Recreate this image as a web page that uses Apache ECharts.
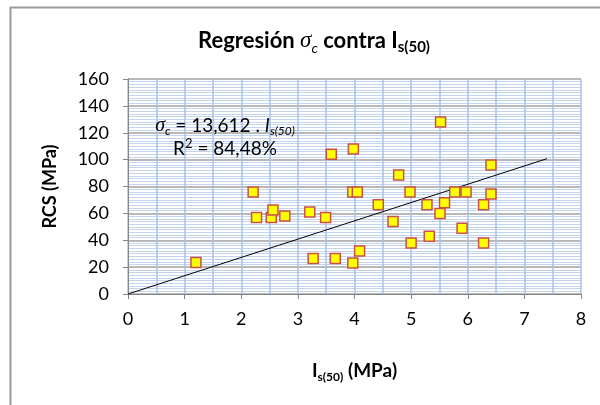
<!DOCTYPE html>
<html>
<head>
<meta charset="utf-8">
<script src="https://cdn.jsdelivr.net/npm/echarts@6/dist/echarts.min.js"></script>
<style>
  html, body { margin: 0; padding: 0; background: #fff; }
  #chart { width: 600px; height: 405px; }
</style>
</head>
<body>
<div id="chart"></div>
<script>
// datos
var is50 = [1.2, 2.21, 2.27, 2.53, 2.56, 2.77, 3.21, 3.27, 3.49, 3.59, 3.66, 3.97, 3.97, 3.98, 4.05, 4.09, 4.42,
    4.68, 4.78, 4.98, 5.0, 5.28, 5.32, 5.51, 5.52, 5.59, 5.77, 5.9, 5.97, 6.28, 6.28, 6.41, 6.41];
var rcs = [23.5, 76, 57, 57, 62.5, 58, 61, 26.5, 57, 104, 26.5, 23, 76, 108, 76, 32, 66.5,
    54, 88.5, 76, 38, 66.5, 43, 60, 128, 68, 76, 49, 76, 66.5, 38, 96, 74.5];
var slope = 13.612;
var trendRange = [0, 7.4];
var xTicks = [0, 8, 1];
var yTicks = [0, 160, 20];

var font = 'Lato';
var points = is50.map(function (x, i) { return [x, rcs[i]]; });
var trend = trendRange.map(function (x) { return [x, slope * x]; });

var myChart = echarts.init(document.getElementById('chart'));
var option = {
    backgroundColor: '#fff',
    animation: false,
    title: [{
        left: 309, top: 22, textAlign: 'center',
        text: '{b|Regresión }{g|σ}{gs|c}{b| contra I}{bs|s(50)}',
        textStyle: {
            fontFamily: font, fontSize: 22, fontWeight: 'bold', color: '#000',
            rich: {
                b: { fontFamily: font, fontWeight: 'bold', fontSize: 22, color: '#000', lineHeight: 28 },
                g: { fontFamily: 'Liberation Serif', fontStyle: 'italic', fontWeight: 'normal', fontSize: 23, color: '#000', lineHeight: 28 },
                gs: { fontFamily: font, fontStyle: 'italic', fontWeight: 'normal', fontSize: 14, color: '#000', verticalAlign: 'bottom', lineHeight: 16 },
                bs: { fontFamily: font, fontWeight: 'bold', fontSize: 15, color: '#000', verticalAlign: 'bottom', lineHeight: 16 }
            }
        }
    }, {
        left: 220, top: 109, textAlign: 'center',
        text: '{g|σ}{gs|c}{n| = 13,612 . }{i|I}{is|s(50)}\n{n|R}{sup|2}{n| = 84,48%}',
        textStyle: {
            fontFamily: font, fontSize: 19, fontWeight: 'normal', color: '#000',
            rich: {
                n: { fontFamily: font, fontWeight: 'normal', fontSize: 19, color: '#000', lineHeight: 23 },
                g: { fontFamily: 'Liberation Serif', fontStyle: 'italic', fontWeight: 'normal', fontSize: 20, color: '#000', lineHeight: 23 },
                gs: { fontFamily: font, fontStyle: 'italic', fontWeight: 'normal', fontSize: 12, color: '#000', verticalAlign: 'bottom', lineHeight: 13 },
                i: { fontFamily: font, fontStyle: 'italic', fontWeight: 'normal', fontSize: 19, color: '#000', lineHeight: 23 },
                is: { fontFamily: font, fontStyle: 'italic', fontWeight: 'normal', fontSize: 12, color: '#000', verticalAlign: 'bottom', lineHeight: 13 },
                sup: { fontFamily: font, fontWeight: 'normal', fontSize: 13, color: '#000', verticalAlign: 'top', lineHeight: 13 }
            }
        }
    }],
    graphic: [{
        type: 'polyline', silent: true,
        shape: { points: [[10.5, 405], [10.5, 7.5], [600, 7.5]] },
        style: { stroke: '#9a9a9a', lineWidth: 2, fill: null }
    }],
    grid: { left: 128, right: 19, top: 79, bottom: 111 },
    xAxis: {
        type: 'value', min: xTicks[0], max: xTicks[1], interval: xTicks[2],
        name: '{b|I}{bs|s(50)}{b| (MPa)}', nameLocation: 'middle', nameGap: 65,
        nameTextStyle: {
            fontFamily: font, fontSize: 19, fontWeight: 'bold', color: '#000',
            rich: {
                b: { fontFamily: font, fontWeight: 'bold', fontSize: 19, color: '#000', lineHeight: 24 },
                bs: { fontFamily: font, fontWeight: 'bold', fontSize: 12, color: '#000', verticalAlign: 'bottom', lineHeight: 13 }
            }
        },
        axisLine: { onZero: false, lineStyle: { color: '#868686', width: 1 } },
        axisTick: { show: true, inside: false, length: 5, lineStyle: { color: '#868686' } },
        axisLabel: { fontFamily: font, fontSize: 18, color: '#000', margin: 16 },
        splitLine: { show: true, lineStyle: { color: '#a9c1e6', width: 1.5 } },
        minorTick: { show: false, splitNumber: 2 },
        minorSplitLine: { show: true, lineStyle: { color: '#a9c1e6', width: 1.5 } }
    },
    yAxis: {
        type: 'value', min: yTicks[0], max: yTicks[1], interval: yTicks[2],
        name: 'RCS (MPa)', nameLocation: 'middle', nameGap: 69, nameRotate: 90,
        nameTextStyle: { fontFamily: font, fontWeight: 'bold', fontSize: 18, color: '#000' },
        axisLine: { show: true, lineStyle: { color: '#868686', width: 1 } },
        axisTick: { show: true, inside: false, length: 5, lineStyle: { color: '#868686' } },
        axisLabel: { fontFamily: font, fontSize: 18, color: '#000', margin: 19 },
        splitLine: { show: true, lineStyle: { color: '#a0a0a0', width: 1.5 } },
        minorTick: { show: false, splitNumber: 10 },
        minorSplitLine: { show: true, lineStyle: { color: '#c3d4ee', width: 1 } }
    },
    series: [{
        type: 'line', data: trend, symbol: 'none', silent: true,
        lineStyle: { color: '#000', width: 1 }, z: 2
    }, {
        type: 'scatter', data: points, symbol: 'rect', symbolSize: 10,
        itemStyle: { color: '#ffff00', borderColor: '#c9504a', borderWidth: 1.5, opacity: 1 }, z: 3
    }]
};
myChart.setOption(option);
</script>
</body>
</html>
